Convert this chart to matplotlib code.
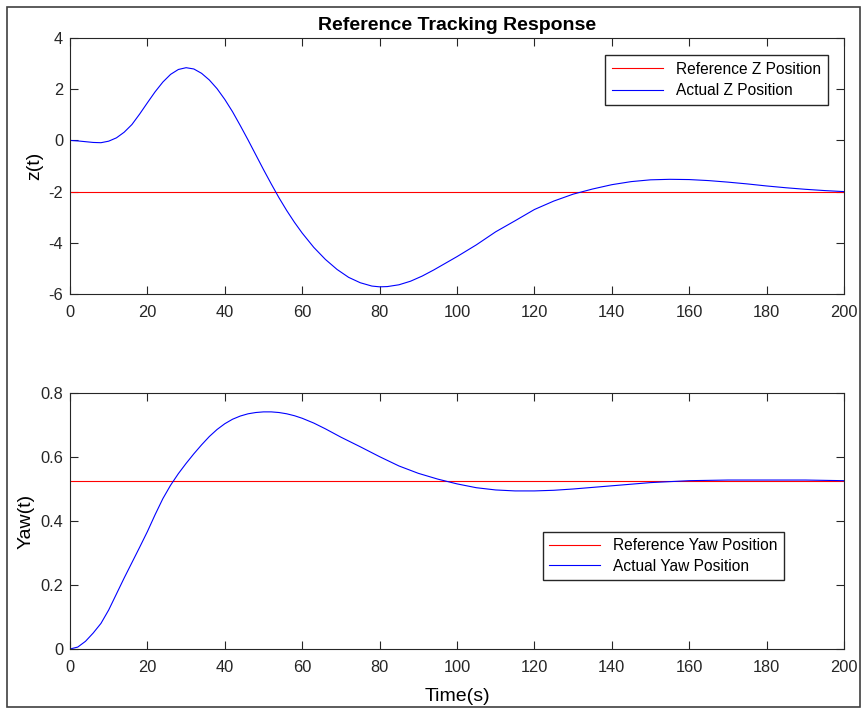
import numpy as np
import matplotlib.pyplot as plt
from matplotlib.patches import Rectangle

plt.rcParams['font.family'] = ['Liberation Sans', 'DejaVu Sans']
plt.rc('font', size=11)

# z position response
t_z = [0, 2, 4, 6, 8, 10, 12, 14, 16, 18, 20, 22, 24, 26, 28, 30, 32, 34, 36, 38, 40,
       42, 44, 46, 48, 50, 52, 54, 56, 58, 60, 63, 66, 69, 72, 75, 78, 80, 82, 85, 88,
       91, 94, 97, 100, 105, 110, 115, 120, 125, 130, 135, 140, 145, 150, 155, 160,
       165, 170, 175, 180, 185, 190, 195, 200]
z_act = [0.00, -0.02, -0.05, -0.08, -0.09, -0.03, 0.10, 0.32, 0.62, 1.03, 1.47, 1.90,
         2.28, 2.58, 2.77, 2.84, 2.79, 2.62, 2.36, 2.02, 1.60, 1.12, 0.58, 0.02, -0.56,
         -1.14, -1.70, -2.24, -2.74, -3.20, -3.62, -4.18, -4.65, -5.04, -5.35, -5.56,
         -5.69, -5.72, -5.71, -5.64, -5.50, -5.30, -5.06, -4.80, -4.54, -4.08, -3.57,
         -3.14, -2.70, -2.37, -2.10, -1.90, -1.73, -1.61, -1.54, -1.52, -1.53, -1.57,
         -1.63, -1.70, -1.78, -1.85, -1.91, -1.96, -2.0]
z_ref = -2.0

# yaw response
t_yaw = [0, 2, 4, 6, 8, 10, 12, 14, 16, 18, 20, 22, 24, 26, 28, 30, 32, 34, 36, 38, 40,
         42, 44, 46, 48, 50, 52, 54, 56, 58, 60, 63, 66, 70, 75, 80, 85, 90, 95, 100,
         105, 110, 115, 120, 125, 130, 135, 140, 145, 150, 155, 160, 170, 180, 190, 200]
yaw_act = [0.0, 0.006, 0.024, 0.050, 0.080, 0.122, 0.172, 0.222, 0.270, 0.318, 0.367,
           0.420, 0.470, 0.512, 0.548, 0.580, 0.610, 0.638, 0.664, 0.686, 0.704, 0.718,
           0.728, 0.735, 0.739, 0.741, 0.741, 0.739, 0.735, 0.729, 0.721, 0.706, 0.688,
           0.662, 0.632, 0.601, 0.572, 0.549, 0.531, 0.516, 0.504, 0.497, 0.494, 0.494,
           0.496, 0.500, 0.505, 0.510, 0.515, 0.520, 0.523, 0.526, 0.528, 0.528, 0.528,
           0.526]
yaw_ref = 0.5236

grey = '#262626'

fig = plt.figure(figsize=(8.61, 7.09), dpi=100)
fig.patches.append(Rectangle((7/861, 2/709), 853/861, 700/709, transform=fig.transFigure,
                             fill=False, edgecolor='#404040', linewidth=1.2))

ax1 = fig.add_axes([70/861, 1-294/709, 774/861, 256/709])
ax2 = fig.add_axes([70/861, 1-649/709, 774/861, 256/709])

ax1.plot([0, 200], [z_ref, z_ref], color='red', lw=0.8, label='Reference Z Position')
ax1.plot(t_z, z_act, color='blue', lw=0.8, label='Actual Z Position')
ax1.set_ylim(-6, 4)
ax1.set_yticks([-6, -4, -2, 0, 2, 4])
ax1.set_yticklabels(['-6', '-4', '-2', '0', '2', '4'])
ax1.set_ylabel('z(t)', fontsize=14, labelpad=4)
ax1.set_title('Reference Tracking Response', fontsize=14, fontweight='bold', pad=6)
ax1.legend(loc='upper right', bbox_to_anchor=(0.979, 0.934), borderaxespad=0,
           fancybox=False, edgecolor=grey, framealpha=1, handlelength=3.3,
           fontsize=11.2, borderpad=0.45, labelspacing=0.4, handletextpad=0.8)

ax2.plot([0, 200], [yaw_ref, yaw_ref], color='red', lw=0.8, label='Reference Yaw Position')
ax2.plot(t_yaw, yaw_act, color='blue', lw=0.8, label='Actual Yaw Position')
ax2.set_ylim(0, 0.8)
ax2.set_yticks([0, 0.2, 0.4, 0.6, 0.8])
ax2.set_yticklabels(['0', '0.2', '0.4', '0.6', '0.8'])
ax2.set_ylabel('Yaw(t)', fontsize=14, labelpad=4)
ax2.set_xlabel('Time(s)', fontsize=14, labelpad=9)
ax2.legend(loc='upper left', bbox_to_anchor=(0.611, 0.457), borderaxespad=0,
           fancybox=False, edgecolor=grey, framealpha=1, handlelength=3.3,
           fontsize=11.2, borderpad=0.4, labelspacing=0.35, handletextpad=0.8)

for ax in (ax1, ax2):
    ax.set_xlim(0, 200)
    ax.set_xticks(np.arange(0, 201, 20))
    ax.tick_params(direction='in', top=True, right=True, length=6, width=0.8,
                   colors=grey, labelsize=11.8)
    ax.tick_params(axis='x', pad=8)
    ax.tick_params(axis='y', pad=5)
    for s in ax.spines.values():
        s.set_color(grey)
        s.set_linewidth(0.8)

fig.savefig('out.png', dpi=100)
